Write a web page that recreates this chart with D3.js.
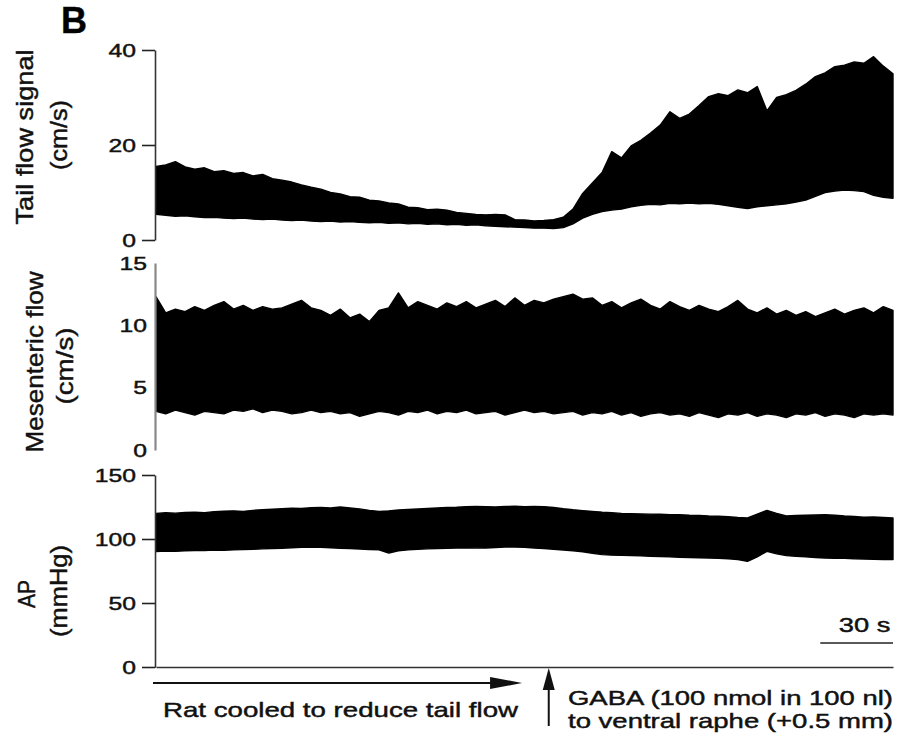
<!DOCTYPE html>
<html><head><meta charset="utf-8">
<script src="https://cdn.jsdelivr.net/npm/d3@7"></script>
<style>
html,body{margin:0;padding:0;background:#fff;}
svg{display:block;font-family:"Liberation Sans",Arial,sans-serif;}
svg text{stroke:#111;stroke-width:0.45px;}
</style></head>
<body>
<svg id="chart" width="900" height="741"></svg>
<script>
// ---- data (time in s, sampled every 4 s) ----
const sampleStep = 4;
const tailUpper = [15.5,15.8,16.5,15.4,14.9,15.2,14.4,14.6,14.0,14.2,13.5,13.8,12.9,12.6,12.2,11.6,11.1,10.7,10.0,9.7,
  9.1,9.0,8.4,8.2,7.8,7.6,6.9,6.8,6.4,6.5,6.3,5.8,5.6,5.4,5.3,5.4,5.3,4.3,4.2,4.0,
  4.1,4.3,4.8,6.5,9.8,12.0,14.2,18.6,17.3,19.8,21.0,22.5,24.2,27.0,25.6,26.5,28.3,30.2,30.8,30.4,
  31.6,31.0,32.3,27.2,30.0,30.6,31.5,32.8,34.4,35.2,36.5,36.8,37.5,37.2,38.6,36.6,35.0];
const tailLower = [5.4,5.2,5.0,5.1,4.9,4.7,4.8,4.6,4.5,4.6,4.4,4.3,4.4,4.2,4.1,4.2,4.0,3.9,4.0,3.8,
  3.9,3.7,3.6,3.7,3.5,3.6,3.4,3.5,3.3,3.4,3.2,3.3,3.1,3.2,3.0,2.9,2.8,2.7,2.6,2.5,
  2.5,2.4,2.6,3.4,4.6,5.4,6.0,6.3,6.5,7.0,7.3,7.5,7.4,7.7,7.6,7.8,7.6,7.7,7.5,7.2,
  6.9,6.6,7.0,7.2,7.4,7.6,8.0,8.4,9.2,10.0,10.3,10.5,10.4,10.2,9.4,9.0,8.8];
const mesUpper = [12.3,11.0,11.3,11.1,11.5,11.2,11.6,11.9,11.3,11.6,11.2,11.5,11.3,11.4,11.7,12.0,11.4,11.2,10.8,11.3,
  10.6,10.9,10.3,11.2,11.4,12.6,11.4,11.9,11.6,11.3,11.8,11.5,11.9,11.4,11.7,12.0,11.5,12.2,11.6,12.0,
  11.8,12.1,12.3,12.5,12.1,12.2,11.6,11.9,11.4,11.8,12.1,11.6,11.3,11.9,11.5,11.2,11.6,11.3,11.1,11.5,
  12.0,11.3,11.0,11.4,10.9,11.2,10.8,11.1,10.7,11.0,11.3,10.9,11.2,11.4,11.0,11.5,11.2];
const mesLower = [3.1,2.9,3.2,3.0,2.8,3.1,3.0,2.9,3.2,3.1,3.3,3.0,3.2,3.1,2.9,3.0,3.2,3.0,3.1,2.9,
  3.0,2.7,2.9,3.1,3.0,2.8,3.1,3.0,3.2,2.9,3.1,3.0,3.2,2.9,3.0,3.1,2.8,3.0,3.2,3.0,
  3.1,2.9,3.0,3.1,2.8,3.0,2.9,3.1,2.8,3.0,2.7,2.9,3.0,2.8,2.9,2.7,3.0,2.8,2.6,2.9,
  2.8,3.0,2.7,2.9,2.8,2.6,2.9,2.8,3.0,2.7,2.9,2.8,2.6,2.9,2.8,2.9,2.8];
const apUpper = [120.0,120.5,120.2,120.8,121.0,120.6,121.4,121.8,122.0,121.6,122.4,122.8,123.2,123.6,124.0,123.8,124.4,124.6,124.2,125.0,
  124.2,123.5,122.4,121.6,122.0,122.6,123.0,123.4,123.8,124.2,124.6,124.8,125.2,125.5,125.3,125.0,125.4,125.6,125.2,125.5,
  125.3,124.6,123.6,122.8,122.2,121.6,121.0,120.6,120.0,119.8,119.6,119.4,119.3,119.0,119.0,118.6,118.4,118.0,117.8,117.4,
  116.8,116.4,119.5,122.4,120.0,118.0,118.4,118.6,118.8,119.0,118.6,118.0,117.6,117.0,117.2,116.8,116.4];
const apLower = [90.2,90.5,90.3,90.8,91.0,90.9,91.3,91.2,91.5,91.7,92.0,92.3,92.6,92.8,93.2,93.5,93.8,93.6,93.2,92.8,
  92.6,92.2,91.8,91.5,89.0,90.8,91.5,92.0,92.3,92.6,92.8,92.9,93.0,93.1,93.0,93.4,93.7,93.8,93.5,93.0,
  92.6,92.0,91.4,90.8,90.0,88.8,87.8,87.4,87.2,87.0,86.8,86.5,86.3,86.0,85.8,85.6,85.4,85.2,85.0,84.6,
  84.0,82.5,86.0,90.4,88.4,87.0,86.5,86.0,85.6,85.2,85.0,85.0,84.6,84.4,84.2,84.0,84.0];

const tailTicks = [0, 20, 40];
const mesTicks = [0, 5, 10, 15];
const apTicks = [0, 50, 100, 150];
const scaleBarSeconds = 30;
const coolingEnd = 151;   // s, end of cooling arrow
const gabaTime = 162;     // s, GABA injection

// ---- layout ----
const svg = d3.select("#chart");
const FONT = '"Liberation Sans",Arial,sans-serif';
const tEnd = sampleStep * (tailUpper.length - 1);
const x = d3.scaleLinear().domain([0, tEnd]).range([156, 893]);
const yTail = d3.scaleLinear().domain([0, 40]).range([240, 50]);
const yMes = d3.scaleLinear().domain([0, 15]).range([450, 263]);
const yAP = d3.scaleLinear().domain([0, 150]).range([667, 475]);
const axisX = 155;

function stretch(sel, k) {
  sel.each(function () {
    const w = this.getComputedTextLength();
    d3.select(this).attr("textLength", w * k).attr("lengthAdjust", "spacingAndGlyphs");
  });
}

function band(upper, lower, y, color) {
  const data = upper.map((u, i) => ({ t: i * sampleStep, u: u, l: lower[i] }));
  const area = d3.area().x(d => x(d.t)).y0(d => y(d.l)).y1(d => y(d.u));
  svg.append("path").datum(data).attr("d", area).attr("fill", color)
    .attr("stroke", color).attr("stroke-width", 1.4).attr("stroke-linejoin", "round");
}

band(tailUpper, tailLower, yTail, "#000");
band(mesUpper, mesLower, yMes, "#000");
band(apUpper, apLower, yAP, "#000");

// axes
function leftAxis(y, ticks, size, pad, color, width) {
  const g = svg.append("g").attr("transform", `translate(${axisX},0)`)
    .call(d3.axisLeft(y).tickValues(ticks).tickSize(size).tickPadding(pad).tickSizeOuter(0));
  g.select(".domain").attr("stroke", color).attr("stroke-width", width);
  g.selectAll(".tick line").attr("stroke", "#222").attr("stroke-width", 1.6);
  g.selectAll(".tick text").attr("font-family", FONT).attr("font-size", 19).attr("fill", "#111")
    .call(stretch, 1.3);
  return g;
}
leftAxis(yTail, tailTicks, 13, 6, "#333", 1.6);
leftAxis(yMes, mesTicks, 0, 8, "#888", 2.2);
leftAxis(yAP, apTicks, 13, 6, "#333", 1.6);

// bottom time axis line
const gx = svg.append("g").attr("transform", `translate(0,${yAP(0)})`)
  .call(d3.axisBottom(x).tickValues([]).tickSizeOuter(0));
gx.select(".domain").attr("stroke", "#333").attr("stroke-width", 1.6);
svg.append("line").attr("x1", axisX).attr("x2", x(0)).attr("y1", yAP(0)).attr("y2", yAP(0))
  .attr("stroke", "#333").attr("stroke-width", 1.6);

// scale bar
svg.append("line").attr("x1", x(tEnd - scaleBarSeconds)).attr("x2", x(tEnd))
  .attr("y1", 643).attr("y2", 643).attr("stroke", "#222").attr("stroke-width", 1.6);
svg.append("text").attr("x", x(tEnd - scaleBarSeconds / 2) + 8).attr("y", 632)
  .attr("text-anchor", "middle").attr("font-family", FONT).attr("font-size", 21).attr("fill", "#111")
  .text("30 s").call(stretch, 1.3);

// cooling arrow
const arrowY = 683;
svg.append("line").attr("x1", 153).attr("x2", x(coolingEnd) - 20).attr("y1", arrowY).attr("y2", arrowY)
  .attr("stroke", "#111").attr("stroke-width", 2.2);
svg.append("path").attr("d", `M${x(coolingEnd)},${arrowY} L${x(coolingEnd) - 32},${arrowY - 6} L${x(coolingEnd) - 32},${arrowY + 6} Z`)
  .attr("fill", "#111");
svg.append("text").attr("x", 163).attr("y", 717).attr("font-family", FONT).attr("font-size", 21)
  .attr("fill", "#111").attr("textLength", 355).attr("lengthAdjust", "spacingAndGlyphs")
  .text("Rat cooled to reduce tail flow");

// GABA arrow
const gx0 = x(gabaTime);
svg.append("line").attr("x1", gx0).attr("x2", gx0).attr("y1", 726).attr("y2", 685)
  .attr("stroke", "#111").attr("stroke-width", 2);
svg.append("path").attr("d", `M${gx0},668 L${gx0 - 6},690 L${gx0 + 6},690 Z`).attr("fill", "#111");
svg.append("text").attr("x", 568).attr("y", 705).attr("font-family", FONT).attr("font-size", 21)
  .attr("fill", "#111").attr("textLength", 325).attr("lengthAdjust", "spacingAndGlyphs")
  .text("GABA (100 nmol in 100 nl)");
svg.append("text").attr("x", 568).attr("y", 728).attr("font-family", FONT).attr("font-size", 21)
  .attr("fill", "#111").attr("textLength", 325).attr("lengthAdjust", "spacingAndGlyphs")
  .text("to ventral raphe (+0.5 mm)");

// y labels (rotated)
function vLabel(txt, bx, cy, len, size) {
  svg.append("text").attr("transform", `translate(${bx},${cy}) rotate(-90)`)
    .attr("text-anchor", "middle").attr("font-family", FONT).attr("font-size", size).attr("fill", "#111")
    .attr("textLength", len).attr("lengthAdjust", "spacingAndGlyphs").text(txt);
}
vLabel("Tail flow signal", 33, 137, 175, 24);
vLabel("(cm/s)", 67, 135, 70, 24);
vLabel("Mesenteric flow", 43, 362, 181, 24);
vLabel("(cm/s)", 73, 366, 77, 24);
vLabel("AP", 35, 594, 28, 24);
vLabel("(mmHg)", 67, 591, 92, 24);

// panel letter
svg.append("text").attr("x", 61).attr("y", 33).attr("font-family", FONT).attr("font-weight", "bold")
  .attr("font-size", 36).attr("fill", "#000").text("B");
</script>
</body></html>
